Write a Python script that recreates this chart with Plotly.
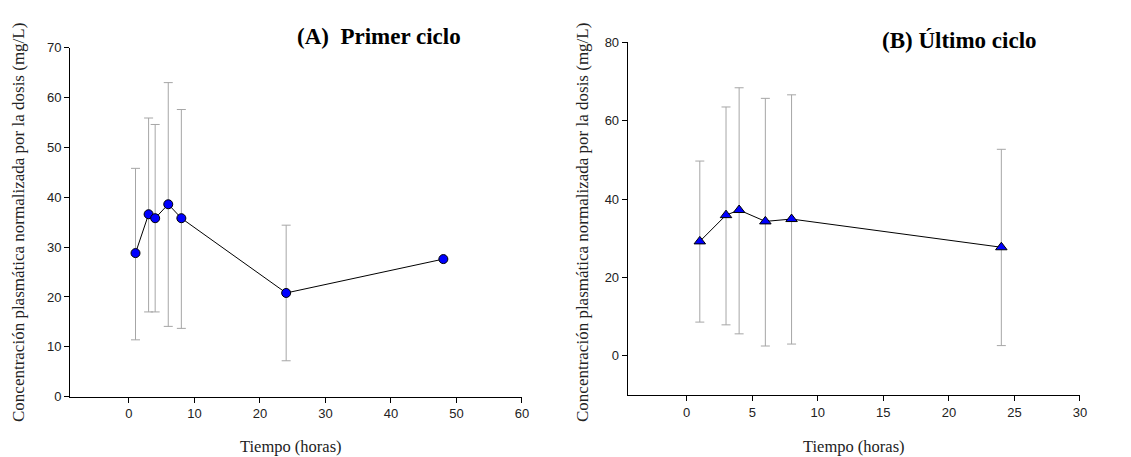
import plotly.graph_objects as go

# Panel A: primer ciclo
time_a = [1, 3, 4, 6, 8, 24, 48]
mean_a = [28.8, 36.6, 35.8, 38.6, 35.8, 20.8, 27.6]
upper_a = [45.8, 55.9, 54.6, 63.0, 57.6, 34.4, None]
lower_a = [11.4, 17.0, 17.0, 14.1, 13.7, 7.2, None]

# Panel B: último ciclo
time_b = [1, 3, 4, 6, 8, 24]
mean_b = [29.2, 35.9, 37.2, 34.3, 34.9, 27.7]
upper_b = [49.7, 63.5, 68.4, 65.7, 66.6, 52.7]
lower_b = [8.6, 7.9, 5.6, 2.5, 3.0, 2.6]

x_ticks_a = [0, 10, 20, 30, 40, 50, 60]
y_ticks_a = [0, 10, 20, 30, 40, 50, 60, 70]
x_ticks_b = [0, 5, 10, 15, 20, 25, 30]
y_ticks_b = [0, 20, 40, 60, 80]

title_a = "(A)\u00a0 Primer ciclo"
title_b = "(B) Último ciclo"
x_title = "Tiempo (horas)"
y_title = "Concentración plasmática normalizada por la dosis (mg/L)"


def err(mean, upper, lower):
    plus = [None if u is None else u - m for m, u in zip(mean, upper)]
    minus = [None if l is None else m - l for m, l in zip(mean, lower)]
    return plus, minus


fig = go.Figure()
ERR_COLOR = "#a6a6a6"

for xs, ms, up, lo, xa, ya, sym in [
    (time_a, mean_a, upper_a, lower_a, "x", "y", "circle"),
    (time_b, mean_b, upper_b, lower_b, "x2", "y2", "triangle-up"),
]:
    plus, minus = err(ms, up, lo)
    fig.add_trace(go.Scatter(
        x=xs, y=ms, xaxis=xa, yaxis=ya, mode="markers",
        marker=dict(size=1, color="rgba(0,0,0,0)"),
        error_y=dict(type="data", symmetric=False, array=plus, arrayminus=minus,
                     color=ERR_COLOR, thickness=1, width=4.5),
        showlegend=False, hoverinfo="skip",
    ))
    fig.add_trace(go.Scatter(
        x=xs, y=ms, xaxis=xa, yaxis=ya, mode="lines+markers",
        line=dict(color="black", width=1),
        marker=dict(symbol=sym, size=9 if sym == "circle" else 10, color="#0000ff",
                    line=dict(color="black", width=1)),
        showlegend=False,
    ))

tick_font = dict(family="Liberation Sans", size=13, color="#222222")
x_title_font = dict(family="Liberation Serif", size=16.5, color="#222222")
y_title_font = dict(family="Liberation Serif", size=17, color="#222222")
head_font = dict(family="Liberation Serif", size=23, color="black")

axis_common = dict(showline=True, linecolor="black", linewidth=1, ticks="outside",
                   ticklen=5, tickcolor="black", showgrid=False, zeroline=False,
                   tickfont=tick_font, automargin=False)

fig.update_layout(
    template="none",
    width=1131, height=457, margin=dict(l=0, r=0, t=0, b=0, pad=0),
    paper_bgcolor="white", plot_bgcolor="white",
    xaxis=dict(domain=[0.0619, 0.4615], range=[-9, 60], tickvals=x_ticks_a,
               anchor="y", **axis_common),
    yaxis=dict(domain=[0.132, 0.8956], range=[0, 70], tickvals=y_ticks_a,
               anchor="x", **axis_common),
    xaxis2=dict(domain=[0.555, 0.9549], range=[-4.5, 30], tickvals=x_ticks_b,
                anchor="y2", **axis_common),
    yaxis2=dict(domain=[0.1357, 0.9074], range=[-10, 80], tickvals=y_ticks_b,
                anchor="x2", **axis_common),
)

annos = [
    (f"<b>{title_a}</b>", 379, 36, head_font),
    (f"<b>{title_b}</b>", 959, 41, head_font),
    (x_title, 291, 446, x_title_font),
    (x_title, 854, 446, x_title_font),
]
for text, px, py, font in annos:
    fig.add_annotation(
        text=text, x=px / 1131, y=(457 - py) / 457, xref="paper", yref="paper",
        xanchor="center", yanchor="middle", showarrow=False, font=font,
    )
for xc in (19, 583):
    fig.add_annotation(
        text=y_title, x=xc / 1131, y=(457 - 223) / 457, xref="paper", yref="paper",
        xanchor="center", yanchor="middle", showarrow=False, textangle=-90,
        font=y_title_font,
    )

fig.write_html("out.html")
